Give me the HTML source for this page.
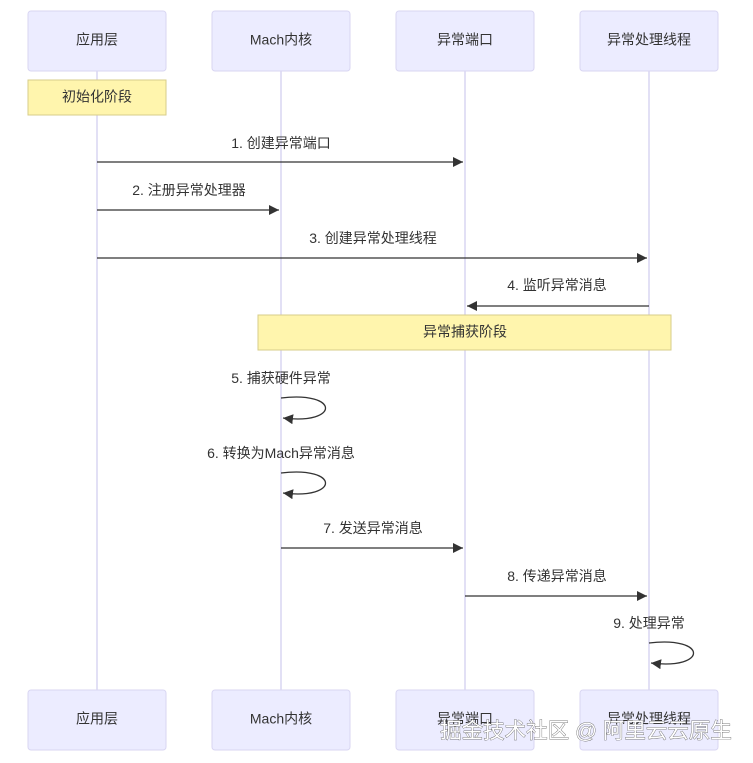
<!DOCTYPE html>
<html><head><meta charset="utf-8"><style>
html,body{margin:0;padding:0;background:#fff;width:753px;height:763px;overflow:hidden}
text{font-family:"Liberation Sans","Noto Sans CJK SC",sans-serif;font-size:14px;fill:#333}
</style></head><body>
<svg width="753" height="763" xmlns="http://www.w3.org/2000/svg">
<defs><marker id="a" markerWidth="12" markerHeight="12" refX="10" refY="5" orient="auto" markerUnits="userSpaceOnUse"><path d="M0,0 L10,5 L0,10 z" fill="#333"/></marker></defs>
<g stroke="#d9d6f2" stroke-width="1.5">
<line x1="97" y1="71" x2="97" y2="690"/><line x1="281" y1="71" x2="281" y2="690"/>
<line x1="465" y1="71" x2="465" y2="690"/><line x1="649" y1="71" x2="649" y2="690"/>
</g>
<g fill="#ececff" stroke="#d9d6f2">
<rect x="28" y="11" width="138" height="60" rx="3"/><rect x="212" y="11" width="138" height="60" rx="3"/>
<rect x="396" y="11" width="138" height="60" rx="3"/><rect x="580" y="11" width="138" height="60" rx="3"/>
<rect x="28" y="690" width="138" height="60" rx="3"/><rect x="212" y="690" width="138" height="60" rx="3"/>
<rect x="396" y="690" width="138" height="60" rx="3"/><rect x="580" y="690" width="138" height="60" rx="3"/>
</g>
<g text-anchor="middle" dominant-baseline="middle">
<text x="97" y="41">应用层</text><text x="281" y="41">Mach内核</text><text x="465" y="41">异常端口</text><text x="649" y="41">异常处理线程</text>
<text x="97" y="720">应用层</text><text x="281" y="720">Mach内核</text><text x="465" y="720">异常端口</text><text x="649" y="720">异常处理线程</text>
</g>
<rect x="28" y="80" width="138" height="35" fill="#fff5ad" stroke="#d7cd8a"/>
<rect x="258" y="315" width="413" height="35" fill="#fff5ad" stroke="#d7cd8a"/>
<g text-anchor="middle" dominant-baseline="middle">
<text x="97" y="98">初始化阶段</text><text x="465" y="333">异常捕获阶段</text>
</g>
<g stroke="#333" stroke-width="1.3" fill="none" marker-end="url(#a)">
<line x1="97" y1="162" x2="463" y2="162"/>
<line x1="97" y1="210" x2="279" y2="210"/>
<line x1="97" y1="258" x2="647" y2="258"/>
<line x1="649" y1="306" x2="467" y2="306"/>
<path d="M281,398 C340,391 340,425 283,418"/>
<path d="M281,473 C340,466 340,500 283,493"/>
<line x1="281" y1="548" x2="463" y2="548"/>
<line x1="465" y1="596" x2="647" y2="596"/>
<path d="M649,643 C708,636 708,670 651,663"/>
</g>
<g text-anchor="middle">
<text x="281" y="148">1. 创建异常端口</text>
<text x="189" y="195">2. 注册异常处理器</text>
<text x="373" y="243">3. 创建异常处理线程</text>
<text x="557" y="290">4. 监听异常消息</text>
<text x="281" y="383">5. 捕获硬件异常</text>
<text x="281" y="458">6. 转换为Mach异常消息</text>
<text x="373" y="533">7. 发送异常消息</text>
<text x="557" y="581">8. 传递异常消息</text>
<text x="649" y="628">9. 处理异常</text>
</g>
<text x="586" y="738" text-anchor="middle" style="font-size:21.5px;fill:#fff;stroke:#555;stroke-width:0.7;paint-order:stroke">掘金技术社区 @ 阿里云云原生</text>
</svg>
</body></html>
